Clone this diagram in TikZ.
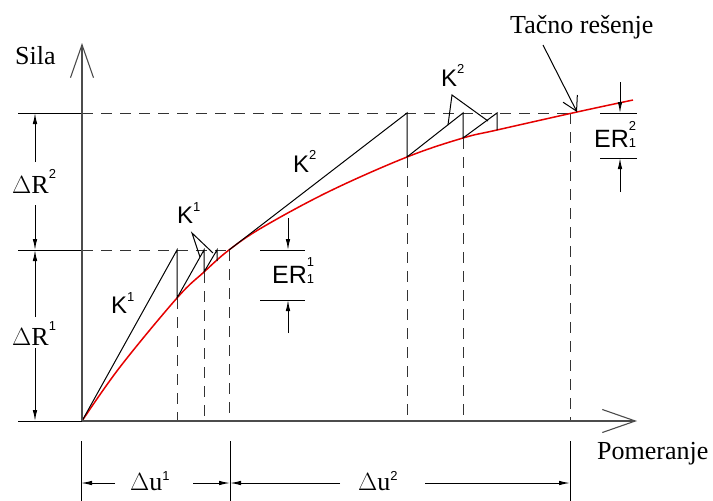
\documentclass[tikz,border=0pt]{standalone}
\usepackage{fontspec}
\setmainfont{Liberation Serif}
\newfontfamily\arialf{Liberation Sans}
\usetikzlibrary{arrows.meta}
\newcommand\mysup[2]{\raisebox{#1}{\arialf\fontsize{13}{13}\selectfont #2}}
\newcommand\myss[3]{\rlap{\raisebox{#1}{\arialf\fontsize{13}{13}\selectfont #2}}{\arialf\fontsize{13}{13}\selectfont #3}}
\begin{document}
\begin{tikzpicture}[x=1pt,y=-1pt,
  thinline/.style={line width=1pt, black},
  dashline/.style={line width=1pt, dash pattern=on 11pt off 8pt, black!80},
  axisline/.style={line width=1.4pt, black!70, -{Straight Barb[length=33pt,width=23pt,line width=1.1pt]}},
  dimarrow/.style={line width=1pt, -{Latex[length=11pt,width=4.5pt]}},
  exact/.style={line width=1.5pt, red!90!black},
  serif/.style={font=\fontsize{26}{26}\selectfont, inner sep=0pt, anchor=base west},
  sanslab/.style={font=\arialf\fontsize{24}{24}\selectfont, inner sep=0pt, anchor=base west},
  erlab/.style={font=\arialf\fontsize{25}{25}\selectfont, inner sep=0pt, anchor=base west},
]
\useasboundingbox (0,0) rectangle (713,501);

% key coordinates
\coordinate (O) at (82,421);
\coordinate (R1L) at (18,250);
\coordinate (R2L) at (18,113);
\coordinate (OL) at (18,421);
\coordinate (R1Y) at (82,250);
\coordinate (R2Y) at (82,113);
\coordinate (Xend) at (637,421);
\coordinate (Yend) at (82,43);

% first iteration
\coordinate (a1t) at (177,250);
\coordinate (a1) at (177,298);
\coordinate (a2t) at (204,250);
\coordinate (a2) at (204,272);
\coordinate (a3t) at (217,250);
\coordinate (a3) at (217,261);
\coordinate (a4) at (229,250);
% second iteration
\coordinate (b1t) at (407,113);
\coordinate (b1) at (407,157);
\coordinate (b2t) at (463,113);
\coordinate (b2) at (463,138);
\coordinate (b3t) at (497,113);
\coordinate (b3) at (497,130);
\coordinate (c1) at (570,113);
\coordinate (ex) at (577,112);

% extension lines
\draw[thinline] (R2L) -- (R2Y);
\draw[thinline] (R1L) -- (R1Y);
\draw[thinline] (OL) -- (O);

% dashed lines
\draw[dashline] (R1Y) -- (a4);
\draw[dashline] (R2Y) -- (575,113);
\draw[dashline] (a1) -- (177,421);
\draw[dashline] (a2) -- (204,421);
\draw[dashline] (a4) -- (229,421);
\draw[dashline] (b1) -- (407,421);
\draw[dashline] (b2) -- (463,421);
\draw[dashline] (c1) -- (570,421);

% exact solution
\draw[exact] plot[smooth, tension=0.6] coordinates {(82,421) (120,367) (177,298) (204,272) (229,250) (263,227) (330,191) (407,157) (463,138) (497,130) (577,112) (633,100)};

% iterations
\draw[thinline] (O) -- (a1t) -- (a1) -- (a2t) -- (a2) -- (a3t) -- (a3);
\draw[thinline] (a4) -- (b1t) -- (b1) -- (b2t) -- (b2) -- (b3t) -- (b3);

% axes
\draw[axisline] (O) -- (Xend);
\draw[axisline] (O) -- (Yend);

% axis labels
\node[serif] (sila) at (15,64) {Sila};
\node[serif] (pom) at (597,459) {Pomeranje};
\node[serif] (tacno) at (510,33) {Tačno rešenje};
\draw[thinline, -{Straight Barb[length=14pt,width=16pt,line width=1pt]}] (543,45) -- (ex);

% K labels
\node[sanslab] (k1a) at (111,313) {K\mysup{12pt}{1}};
\node[sanslab] (k1b) at (177,223) {K\mysup{12pt}{1}};
\node[sanslab] (k2a) at (293,172) {K\mysup{13pt}{2}};
\node[sanslab] (k2b) at (441,86) {K\mysup{13pt}{2}};
\coordinate (k1apex) at (192,233);
\draw[thinline] (200,257) -- (k1apex) -- (213,253);
\coordinate (k2apex) at (452,95);
\draw[thinline] (448,125) -- (k2apex) -- (488,121);

% Delta R dimensions
\draw[dimarrow] (35,162) -- (35,113);
\draw[dimarrow] (35,205) -- (35,250);
\draw[dimarrow] (35,317) -- (35,250);
\draw[dimarrow] (35,348) -- (35,421);
\node[serif] (dr2) at (12,193) {$\Delta$R\mysup{15pt}{2}};
\node[serif] (dr1) at (12,345) {$\Delta$R\mysup{15pt}{1}};

% ER1
\draw[thinline] (260,250) -- (305,250);
\draw[thinline] (260,300) -- (305,300);
\draw[dimarrow] (288,218) -- (288,250);
\draw[dimarrow] (288,333) -- (288,300);
\node[erlab] (er1) at (272,283) {ER\myss{17pt}{1}{1}};

% ER2
\draw[thinline] (600,113) -- (637,113);
\draw[thinline] (600,158) -- (637,158);
\draw[dimarrow] (620,82) -- (620,113);
\draw[dimarrow] (620,192) -- (620,158);
\node[erlab] (er2) at (594,147) {ER\myss{17pt}{2}{1}};

% Delta u dimensions
\draw[thinline] (81,441) -- (81,501);
\draw[thinline] (230,441) -- (230,501);
\draw[thinline] (570,441) -- (570,501);
\draw[dimarrow] (115,483) -- (81,483);
\draw[dimarrow] (193,483) -- (230,483);
\draw[dimarrow] (340,483) -- (230,483);
\draw[dimarrow] (425,483) -- (570,483);
\node[serif] (du1) at (130,490) {$\Delta$u\mysup{10pt}{1}};
\node[serif] (du2) at (358,490) {$\Delta$u\mysup{10pt}{2}};
\end{tikzpicture}
\end{document}
